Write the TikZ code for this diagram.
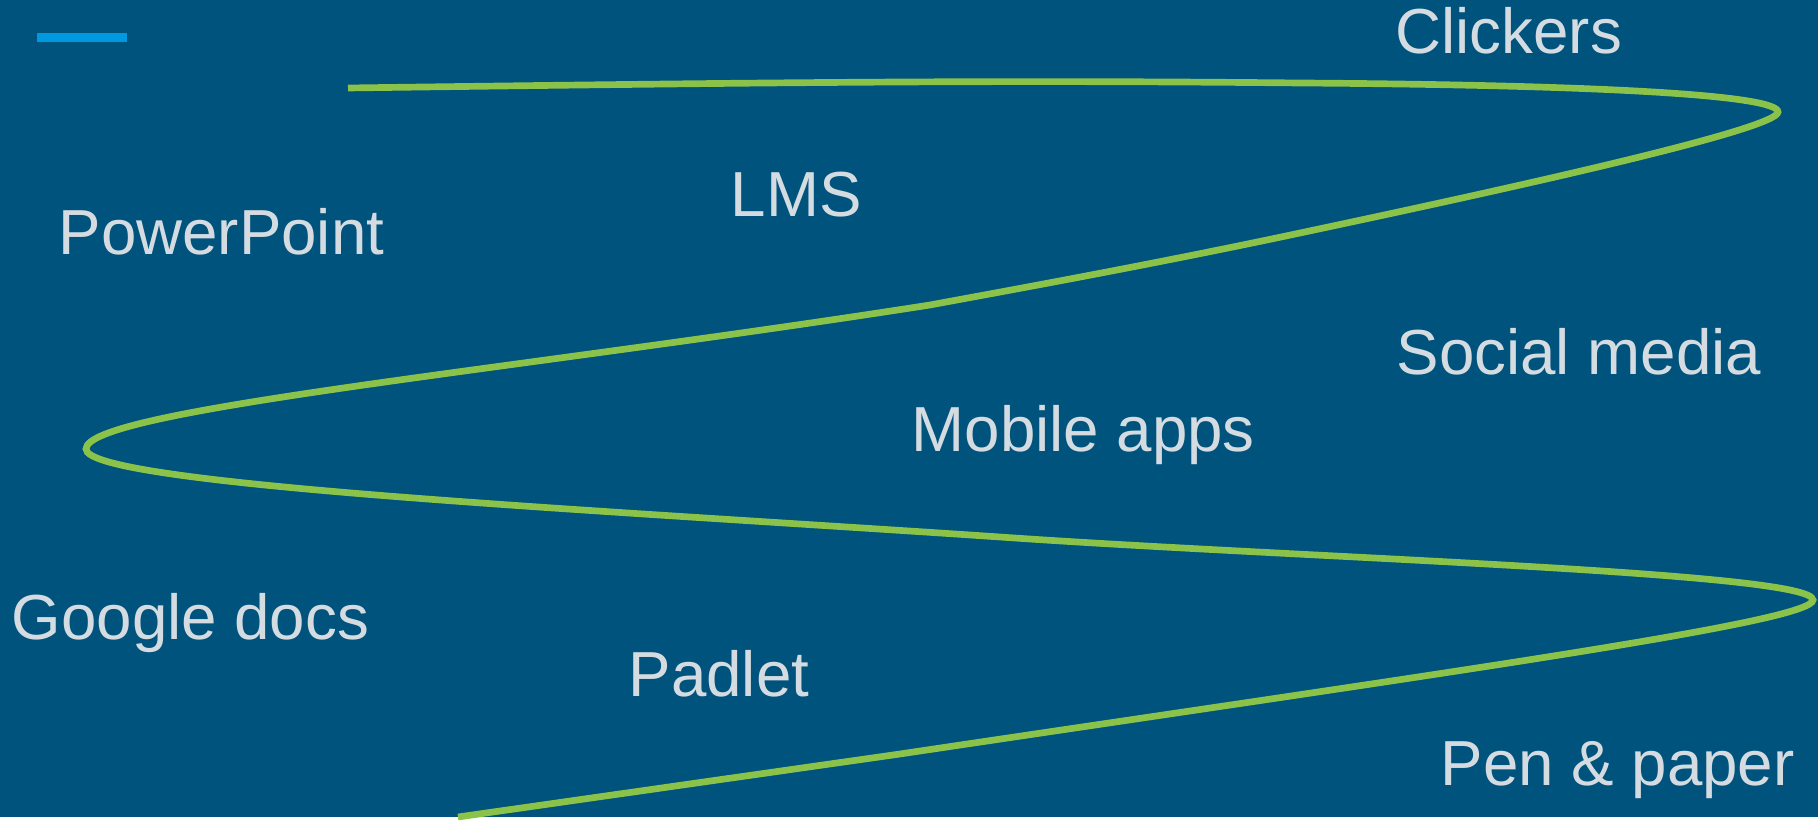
\documentclass[tikz,border=0pt]{standalone}
\usepackage{fontspec}
\setmainfont{Liberation Sans}
\definecolor{slideblue}{RGB}{0, 83, 125}
\definecolor{accentblue}{RGB}{0, 152, 222}
\definecolor{wavegreen}{RGB}{139, 195, 74}
\definecolor{labelgray}{RGB}{212, 220, 225}
\tikzset{tool/.style={anchor=base west, inner sep=0pt, text=labelgray, font=\fontsize{18.1}{22}\selectfont}}
\begin{document}
\begin{tikzpicture}[x=0.01cm, y=-0.01cm]
                \fill[slideblue] (0,0) rectangle (1818,817);
                \draw[accentblue, line width=2.5pt] (37,37.5) -- (127,37.5);
                % the winding line
                \draw[wavegreen, line width=1.9pt]
                    (348,88) .. controls (800,82) and (1000,80) .. (1300,83)
                    .. controls (1600,85) and (1778,95) .. (1778,112)
                    .. controls (1778,128) and (1550,180) .. (1300,233)
                    .. controls (1150,265) and (1000,292) .. (930,305)
                    .. controls (500,372) and (86,410) .. (86,449)
                    .. controls (86,485) and (600,510) .. (1000,537)
                    .. controls (1300,558) and (1813,572) .. (1813,600)
                    .. controls (1813,622) and (1450,672) .. (900,754)
                    -- (458,817);
                \node[tool] (clickers) at (1395,54) {Clickers};
                \node[tool] (lms) at (730,217) {LMS};
                \node[tool] (powerpoint) at (58,255) {PowerPoint};
                \node[tool] (social) at (1396,375) {Social media};
                \node[tool] (mobile) at (911,452) {Mobile apps};
                \node[tool] (google) at (11,640) {Google docs};
                \node[tool] (padlet) at (628,697) {Padlet};
                \node[tool] (pen) at (1440,785) {Pen \& paper};
            \end{tikzpicture}
\end{document}
